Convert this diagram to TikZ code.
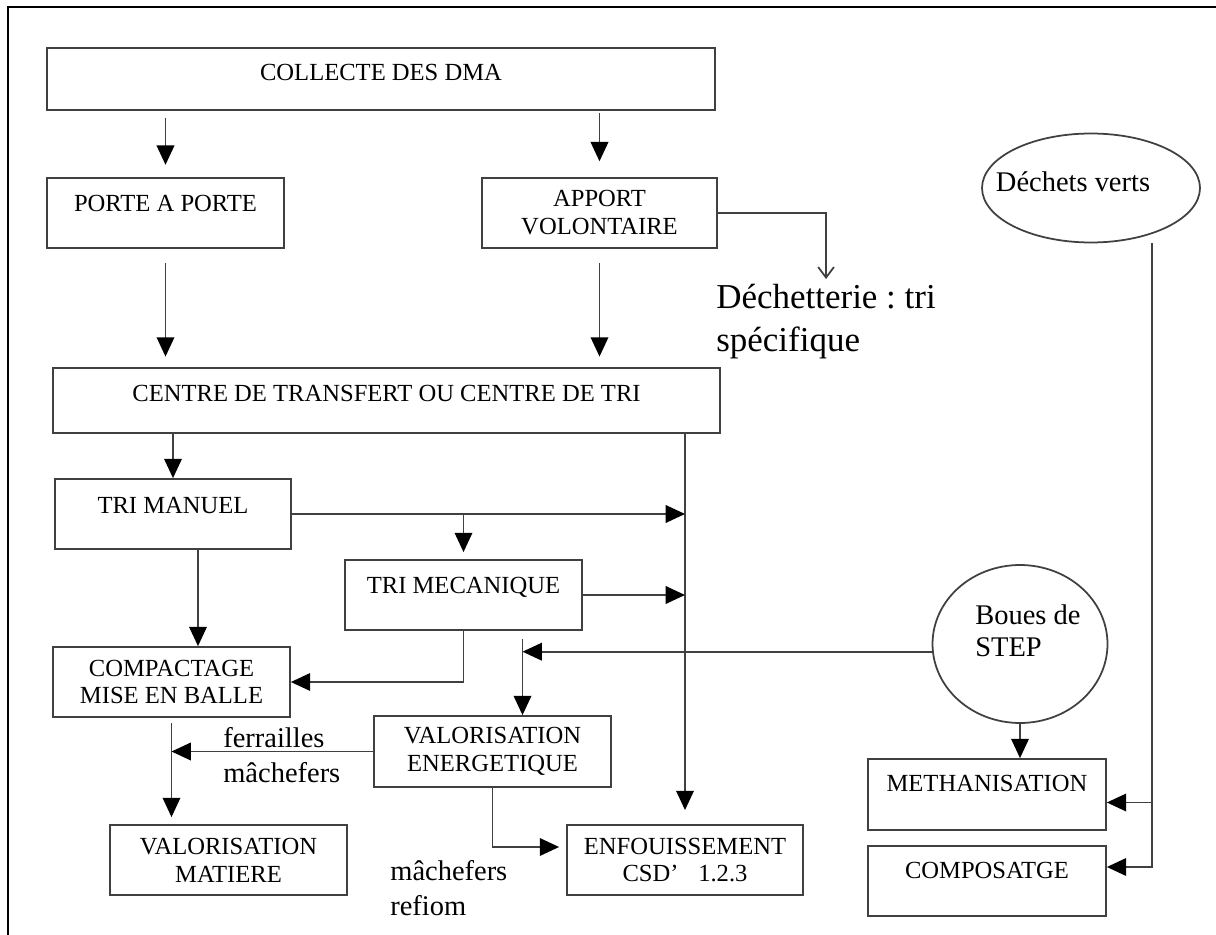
\documentclass[tikz,border=0pt]{standalone}
\usepackage{fontspec}
\setmainfont{Liberation Serif}
\usetikzlibrary{arrows.meta,shapes.geometric,calc}

\begin{document}
\begin{tikzpicture}[x=0.02cm, y=-0.02cm,
    box/.style={rectangle, draw=black!75, line width=1pt, minimum width=4.74cm, minimum height=1.4cm,
      align=center, inner sep=2pt, font=\fontsize{14}{15.9}\selectfont},
    hi/.style={text depth=#1},
    bubble/.style={ellipse, draw=black!75, line width=1pt, inner sep=0pt},
    lbl/.style={align=left, inner sep=0pt, font=\fontsize{16.2}{19.5}\selectfont},
    arr/.style={-{Triangle[length=11pt,width=10pt,color=black]}, line width=1pt, draw=black!75},
    barb/.style={-{Straight Barb[length=6pt,width=9pt]}, line width=1pt, draw=black!75}]

  % Draw the frame
  \useasboundingbox (0,0) rectangle (1216,935);
  \draw[line width=1.5pt] (8,935) -- (8,7) -- (1216,7);

  % Draw the boxes
  \node[box, hi=7pt, minimum width=13.36cm, minimum height=1.24cm] (collecte) at (381,79) {COLLECTE DES DMA};
  \node[box, hi=11pt] (porte) at (165.5,213) {PORTE A PORTE};
  \node[box, minimum width=4.70cm] (apport) at (599.5,213) {APPORT\\VOLONTAIRE};
  \node[box, hi=8pt, minimum width=13.34cm, minimum height=1.3cm] (centre) at (386.5,400.5) {CENTRE DE TRANSFERT OU CENTRE DE TRI};
  \node[box, hi=10pt, minimum width=4.72cm] (manuel) at (173,514) {TRI MANUEL};
  \node[box, hi=11pt] (meca) at (463.5,595) {TRI MECANIQUE};
  \node[box] (compact) at (171.5,682) {COMPACTAGE\\MISE EN BALLE};
  \node[box, minimum height=1.42cm] (energie) at (492.5,751.5) {VALORISATION\\ENERGETIQUE};
  \node[box] (matiere) at (228.5,860) {VALORISATION\\MATIERE};
  \node[box, minimum width=4.72cm] (enfouis) at (685,860) {ENFOUISSEMENT\\CSD'\hspace{0.8em}1.2.3};
  \node[box, hi=13pt, minimum width=4.76cm, minimum height=1.42cm] (metha) at (987,794.5) {METHANISATION};
  \node[box, hi=12pt, minimum width=4.76cm] (compost) at (987,881) {COMPOSATGE};

  % Draw the ellipses
  \node[bubble, minimum width=4.36cm, minimum height=2.18cm] (verts) at (1091,188) {};
  \node[font=\fontsize{16.2}{19.5}\selectfont, inner sep=0pt] (vertstxt) at (1073,182) {Déchets verts};
  \node[bubble, minimum width=3.5cm, minimum height=3.16cm] (boues) at (1020,644) {};
  \node[lbl, anchor=west, font=\fontsize{16.2}{18.1}\selectfont] (bouestxt) at (975,631) {Boues de\\STEP};

  % Free texts
  \node[lbl, anchor=west, font=\fontsize{19.9}{24.4}\selectfont] (dechet) at (716,322) {Déchetterie :\ tri\\spécifique};
  \node[lbl, anchor=west] (ferraille) at (223,755) {ferrailles\\mâchefers};
  \node[lbl, anchor=west] (refiom) at (390,888) {mâchefers\\refiom};

  % Draw the arrows
  \draw[arr, shorten <=4pt, shorten >=7pt] (collecte.south -| porte.north) -- (porte.north);
  \draw[arr, shorten <=1pt, shorten >=9pt] (collecte.south -| apport.north) -- (apport.north);
  \draw[arr, shorten <=8pt, shorten >=6pt] (porte.south) -- (porte.south |- centre.north);
  \draw[arr, shorten <=8pt, shorten >=6pt] (apport.south) -- (apport.south |- centre.north);
  \draw[barb, shorten >=3pt] (apport.east) -| (dechet.north);

  \draw[arr] (centre.south -| manuel.north) -- (manuel.north);
  \draw[arr, shorten >=8pt] (centre.south -| enfouis.north) -- (enfouis.north);
  \draw[arr] (manuel.east) -- (manuel.east -| enfouis.north);
  \draw[arr, shorten >=4pt] (manuel.east -| meca.north) -- (meca.north);
  \draw[arr] (meca.east) -- (meca.east -| enfouis.north);

  \coordinate (m1) at ($(manuel.south)+(25,0)$);
  \draw[arr] (m1) -- (m1 |- compact.north);
  \draw[arr] (meca.south) |- (compact.east);

  \coordinate (v1) at ($(energie.north)+(30,-76)$);
  \draw[arr] (boues.185) -- (boues.185 -| v1);
  \draw[arr] (v1) -- (v1 |- energie.north);

  \draw[arr, shorten <=3pt, shorten >=4pt] (compact.south) -- (compact.south |- matiere.north);
  \draw[arr] (energie.west) -- (energie.west -| compact.south);
  \draw[arr, shorten >=4pt] (energie.south) |- ($(enfouis.west)+(0,-13)$);

  \coordinate (d1) at ($(verts.south)+(61,0)$);
  \draw[arr] (d1) |- ($(metha.east)+(0,8)$);
  \draw[arr] (d1) |- ($(compost.east)+(0,-14)$);
  \draw[arr] (boues.south) -- (boues.south |- metha.north);

\end{tikzpicture}
\end{document}
